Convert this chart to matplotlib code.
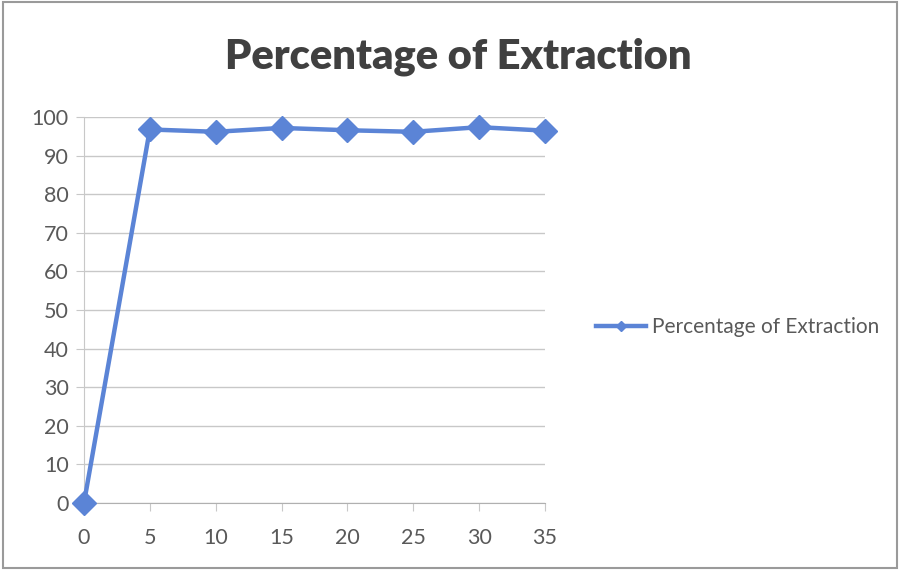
import matplotlib.pyplot as plt
from matplotlib.patches import Rectangle

# extraction time vs percentage extracted
time_points = [0, 5, 10, 15, 20, 25, 30, 35]
extraction = [0, 96.8, 96.2, 97.2, 96.6, 96.2, 97.4, 96.5]
y_ticks = [0, 10, 20, 30, 40, 50, 60, 70, 80, 90, 100]

plt.rcParams['font.family'] = ['Lato', 'DejaVu Sans']
blue = '#5b84d6'
text_gray = '#595959'

fig = plt.figure(figsize=(9, 5.7), dpi=100)
ax = fig.add_axes([0.0933, 0.1175, 0.5122, 0.677])

ax.plot(time_points, extraction, color=blue, linewidth=3.2, marker='D',
        markersize=12, label='Percentage of Extraction', clip_on=False, zorder=3)

ax.set_xlim(0, 35)
ax.set_ylim(0, 100)
ax.set_xticks(time_points)
ax.set_yticks(y_ticks)
ax.grid(axis='y', color='#c8c8c8', linewidth=1)
ax.set_axisbelow(True)

for side in ['top', 'right']:
    ax.spines[side].set_visible(False)
ax.spines['left'].set_color('#c8c8c8')
ax.spines['bottom'].set_color('#b0b0b0')
ax.tick_params(axis='y', length=6, color='#c8c8c8', labelsize=15.5, labelcolor=text_gray, pad=5)
ax.tick_params(axis='x', length=6, color='#c8c8c8', labelsize=15.5, labelcolor=text_gray, pad=12)

fig.text(0.509, 0.9, 'Percentage of Extraction', ha='center', va='center',
         fontsize=30, fontweight='heavy', color='#404040')

ax.legend(loc='center left', bbox_to_anchor=(1.07, 0.456), frameon=False,
          fontsize=15, labelcolor=text_gray, handlelength=2.4, handletextpad=0.3,
          markerscale=0.45)

# outer chart border
fig.patches.append(Rectangle((0.003, 0.004), 0.994, 0.992, transform=fig.transFigure,
                             fill=False, edgecolor='#9a9a9a', linewidth=1.5))

fig.savefig('out.png', dpi=100)
